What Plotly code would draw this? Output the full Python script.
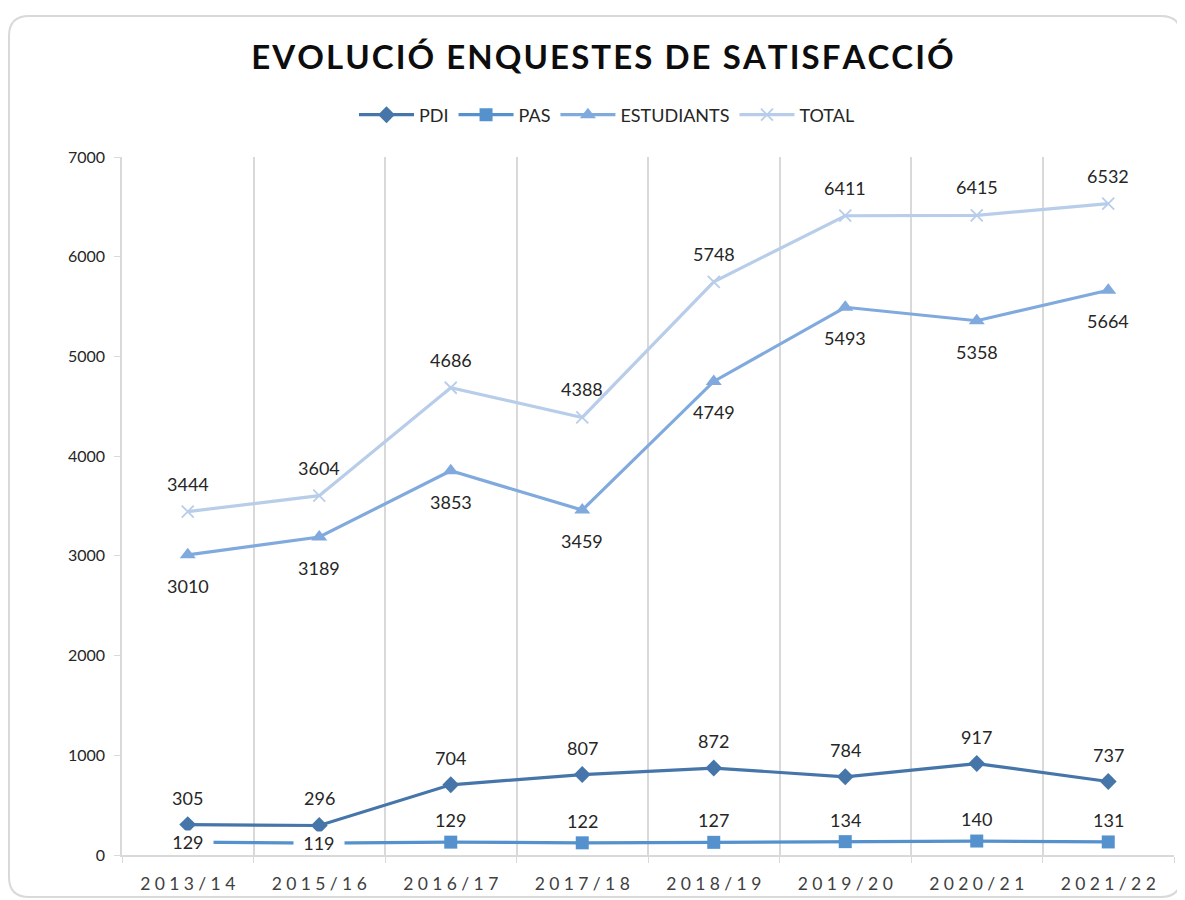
import plotly.graph_objects as go

categories = ["2013/14", "2015/16", "2016/17", "2017/18", "2018/19", "2019/20", "2020/21", "2021/22"]
pdi = [305, 296, 704, 807, 872, 784, 917, 737]
pas = [129, 119, 129, 122, 127, 134, 140, 131]
estudiants = [3010, 3189, 3853, 3459, 4749, 5493, 5358, 5664]
total = [3444, 3604, 4686, 4388, 5748, 6411, 6415, 6532]

title_text = "EVOLUCIÓ ENQUESTES DE SATISFACCIÓ"

C_PDI = "#4676a9"
C_PAS = "#5592cd"
C_EST = "#80aade"
C_TOT = "#b8cdea"
FONT = "Lato"
TXT = "#262626"

# page body has an 8px margin; work in screenshot pixels and subtract it
OFF = 8
W, H = 1185 - OFF, 900 - OFF

fig = go.Figure()
fig.add_trace(go.Scatter(x=categories, y=pdi, name="PDI", mode="lines+markers",
                         line=dict(color=C_PDI, width=3.2),
                         marker=dict(symbol="diamond", size=13, color=C_PDI)))
fig.add_trace(go.Scatter(x=categories, y=pas, name="PAS", mode="lines+markers",
                         line=dict(color=C_PAS, width=3.2),
                         marker=dict(symbol="square", size=13, color=C_PAS)))
fig.add_trace(go.Scatter(x=categories, y=estudiants, name="ESTUDIANTS", mode="lines+markers",
                         line=dict(color=C_EST, width=3.2),
                         marker=dict(symbol="triangle-up", size=14, color=C_EST)))
fig.add_trace(go.Scatter(x=categories, y=total, name="TOTAL", mode="lines+markers",
                         line=dict(color=C_TOT, width=3.2),
                         marker=dict(symbol="x-thin-open", size=12, color=C_TOT,
                                     line=dict(color=C_TOT, width=1.8))))

annotations = []
def lab(xs, ys, shift, bg=None):
    for xv, yv in zip(xs, ys):
        t = str(yv)
        if bg:
            t = "\u00a0\u00a0" + t + "\u00a0\u00a0"
        a = dict(x=xv, y=yv, text=t, showarrow=False, yshift=shift,
                 font=dict(family=FONT, size=18, color=TXT))
        if bg:
            a["bgcolor"] = bg
            a["borderpad"] = 0
        annotations.append(a)

lab(categories, pdi, 27)
lab(categories[2:], pas[2:], 22)
lab(categories[:2], pas[:2], 0, bg="white")
lab(categories, estudiants, -31)
lab(categories, total, 28)

# plot area in screenshot pixels
L, R, T, B = 122 - OFF, 1174 - OFF, 157 - OFF, 855 - OFF
def px(v):
    return (v - OFF - L) / (R - L)
def py(v):
    return (B - (v - OFF)) / (B - T)
x0, x1, y0, y1 = px(9), px(1181), py(16), py(897)
rx, ry = 20 / (R - L), 20 / (B - T)
path = (f"M {x0+rx},{y0} L {x1-rx},{y0} Q {x1},{y0} {x1},{y0-ry} "
        f"L {x1},{y1+ry} Q {x1},{y1} {x1-rx},{y1} L {x0+rx},{y1} "
        f"Q {x0},{y1} {x0},{y1+ry} L {x0},{y0-ry} Q {x0},{y0} {x0+rx},{y0} Z")

fig.update_layout(
    width=W, height=H,
    margin=dict(l=L, r=W - R, t=T, b=H - B, autoexpand=False),
    paper_bgcolor="white", plot_bgcolor="white",
    title=dict(text="<b>" + "\u200a".join(title_text) + "</b>", x=px(602.5), xref="paper",
               xanchor="center", y=1 - (57 - OFF) / H, yanchor="middle", yref="container",
               font=dict(family=FONT, size=33, color="#0d0d0d")),
    legend=dict(orientation="h", x=px(607), xanchor="center", y=py(115), yanchor="middle",
                font=dict(family=FONT, size=18, color=TXT), itemwidth=55,
                bgcolor="rgba(0,0,0,0)"),
    annotations=annotations,
    shapes=[dict(type="path", path=path, xref="paper", yref="paper",
                 line=dict(color="#d9d9d9", width=2), layer="below")],
    showlegend=True,
)
fig.update_xaxes(type="category", range=[-0.5, 7.5], tickson="boundaries", automargin=False,
                 showgrid=True, gridcolor="#d9d9d9", gridwidth=1.5,
                 showline=True, linecolor="#d9d9d9", linewidth=2,
                 ticks="outside", ticklen=6, tickcolor="#d9d9d9",
                 ticklabelstandoff=12,
                 tickvals=categories, ticktext=["\u2005".join(c) for c in categories],
                 tickfont=dict(family=FONT, size=17.5, color="#404040"))
fig.update_yaxes(range=[0, 7000], dtick=1000, showgrid=False, zeroline=False, automargin=False,
                 showline=True, linecolor="#d9d9d9", linewidth=1.5,
                 ticks="outside", ticklen=6, tickcolor="#d9d9d9",
                 ticklabelstandoff=6,
                 tickfont=dict(family=FONT, size=16, color="#262626"))

fig.write_html("out.html")
